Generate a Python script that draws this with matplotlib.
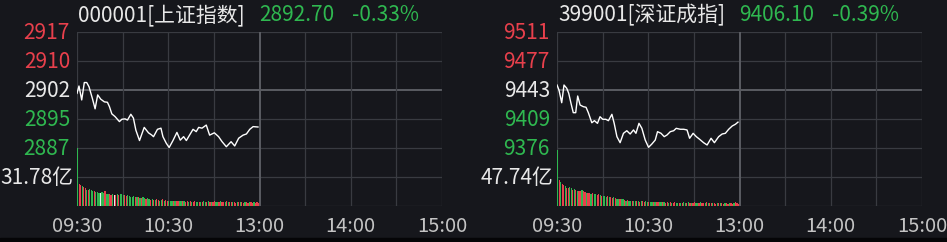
import matplotlib
matplotlib.use("Agg")
import matplotlib.pyplot as plt
from matplotlib.patches import Rectangle

plt.rcParams['font.family'] = ['Noto Sans CJK SC', 'DejaVu Sans']

W, H = 947, 242
BG = '#16171c'
GRID = '#393b41'
GRID_HI = '#5a5c62'
RED = '#e8404c'
GREEN = '#2fb850'
WHITE = '#e8e8e8'
TIME_C = '#c4c4c4'

time_ticks = [0, 60, 120, 180, 240]
time_labels = ['09:30', '10:30', '13:00', '14:00', '15:00']

# ---- 上证指数 ----
sh_title = '000001[上证指数]'
sh_last = '2892.70'
sh_pct = '-0.33%'
sh_preclose = 2902.27
sh_halfrange = 15.0
sh_ticklabels = ['2917', '2910', '2902', '2895', '2887']
sh_vol_label = '31.78亿'
sh_vol_mid = 31.78
sh_minutes = [0, 1.3, 3.1, 4.8, 6.4, 7.9, 10.1, 11.9, 13.6, 15.6, 18.0, 20.0, 21.3, 22.9,
              25.0, 27.9, 29.5, 31.6, 33.2, 35.4, 37.1, 38.7, 41.1, 44.2, 47.0, 49.2, 50.3,
              52.9, 55.2, 56.5, 58.7, 60.6, 63.1, 65.7, 67.9, 70.1, 71.9, 74.0, 76.3, 78.4,
              80.0, 82.2, 85.0, 87.2, 90.3, 93.1, 95.4, 98.2, 101.3, 103.7, 106.3, 109.2,
              111.4, 113.6, 115.8, 119]
sh_prices = [2901.4, 2903.3, 2899.7, 2904.2, 2904.2, 2903.1, 2900.1, 2897.4, 2901.0, 2899.9,
             2899.2, 2899.1, 2898.0, 2896.1, 2895.4, 2894.1, 2894.7, 2894.8, 2894.5, 2896.0,
             2895.0, 2891.9, 2889.2, 2892.6, 2891.2, 2890.6, 2890.2, 2892.1, 2892.4, 2890.2,
             2888.5, 2887.4, 2889.2, 2891.3, 2889.3, 2890.2, 2889.2, 2890.6, 2892.1, 2891.5,
             2892.6, 2892.4, 2893.2, 2890.6, 2891.2, 2890.2, 2888.9, 2887.6, 2888.9, 2887.8,
             2889.8, 2890.6, 2890.9, 2892.1, 2892.8, 2892.7]
sh_volumes = [63.6,
              24, 23, 22, 21, 20, 18, 17, 19, 17, 16,
              16, 15, 15, 14, 14, 15, 14, 16, 13, 13,
              13, 12, 13, 12, 12, 13, 12, 13, 13, 12,
              12, 11, 12, 11, 10, 10, 11, 10, 10, 10,
              9, 9, 10, 9, 8, 9, 8, 7, 8, 7,
              7, 8, 7, 6, 7, 8, 6, 7, 6, 6,
              6, 5, 6, 5, 5, 6, 5, 5, 5, 5,
              4, 5, 4, 5, 4, 4, 5, 4, 4, 4,
              4, 4, 5, 4, 4, 5, 4, 4, 4, 5,
              4, 4, 4, 5, 4, 4, 4, 5, 4, 4,
              4, 4, 4, 3, 4, 4, 4, 4, 3, 4,
              4, 3, 4, 4, 3, 4, 3, 4, 3]
sh_vol_colors = ('g'
                 'rrgrrgrggg'
                 'rgggwggrgg'
                 'rrgwrgrggg'
                 'rrgggggrgr'
                 'grggrggrgr'
                 'grrggrgrrg'
                 'ggrgrrggrg'
                 'rrgrgrrggr'
                 'grggrgrgrr'
                 'ggrgrrgrgr'
                 'rgrrgrgrrg'
                 'rrgrrgrrr')

# ---- 深证成指 ----
sz_title = '399001[深证成指]'
sz_last = '9406.10'
sz_pct = '-0.39%'
sz_preclose = 9443.5
sz_halfrange = 67.5
sz_ticklabels = ['9511', '9477', '9443', '9409', '9376']
sz_vol_label = '47.74亿'
sz_vol_mid = 47.74
sz_minutes = [0, 1.3, 3.1, 4.6, 6.4, 7.7, 9.2, 10.7, 12.3, 13.6, 15.2, 17.3, 19.1, 20.6,
              22.9, 24.6, 26.6, 28.3, 30.1, 32.1, 33.8, 36.1, 37.6, 39.4, 41.5, 43.7, 45.9,
              48.1, 50.3, 51.9, 53.9, 55.8, 58.0, 60.2, 62.4, 64.6, 66.1, 68.4, 70.5, 72.3,
              74.5, 76.7, 78.4, 81.1, 83.3, 85.5, 87.2, 89.5, 91.6, 93.8, 96.4, 98.7, 101.3,
              103.5, 106.3, 108.6, 110.7, 112.9, 115.2, 117.3, 119]
sz_prices = [9449.3, 9443.5, 9428.7, 9449.3, 9445.5, 9439.7, 9428.0, 9417.1, 9417.1, 9436.5,
             9426.0, 9424.1, 9423.4, 9417.1, 9405.4, 9407.8, 9404.7, 9412.4, 9409.4, 9409.4,
             9407.8, 9415.2, 9404.7, 9389.2, 9382.2, 9393.1, 9396.1, 9392.3, 9397.0, 9393.1,
             9404.7, 9398.9, 9385.3, 9376.8, 9380.7, 9385.3, 9395.0, 9393.1, 9389.2, 9391.1,
             9395.0, 9396.1, 9398.9, 9397.8, 9397.8, 9397.0, 9387.3, 9393.1, 9389.2, 9386.1,
             9382.2, 9379.5, 9387.3, 9382.2, 9389.2, 9392.3, 9393.1, 9397.8, 9401.6, 9403.6,
             9406.1]
sz_volumes = [93.0,
              42, 40, 37, 35, 33, 30, 29, 31, 29, 27,
              28, 26, 25, 24, 25, 26, 24, 23, 22, 22,
              21, 20, 22, 20, 19, 18, 19, 18, 17, 16,
              16, 15, 16, 14, 14, 13, 14, 13, 12, 12,
              11, 12, 11, 10, 9, 10, 9, 9, 8, 9,
              8, 9, 8, 7, 8, 9, 7, 8, 7, 7,
              7, 6, 7, 6, 6, 7, 6, 6, 6, 6,
              5, 6, 5, 6, 5, 5, 6, 5, 5, 5,
              5, 5, 6, 5, 5, 6, 5, 5, 5, 6,
              5, 5, 5, 6, 5, 5, 5, 6, 5, 5,
              5, 5, 5, 4, 5, 5, 5, 5, 4, 5,
              5, 4, 5, 5, 4, 5, 6, 5, 4]
sz_vol_colors = ('g'
                 'rgrrgrrggr'
                 'grgrrgrrgr'
                 'rgrggrrgrg'
                 'ggrgrrgrgg'
                 'rggrgrggrg'
                 'grgrgrrggr'
                 'ggrgrrggrg'
                 'rrgrgrrggr'
                 'grggrgrgrr'
                 'ggrgrrgrgr'
                 'rgrrgrgrrg'
                 'rrgrrgrrr')

COLOR_MAP = {'r': RED, 'g': GREEN, 'w': WHITE}


def _rect(x0, y_top, x1, y_bot):
    """pixel box -> figure fraction [left, bottom, width, height]"""
    return [x0 / W, 1 - y_bot / H, (x1 - x0) / W, (y_bot - y_top) / H]


def _fig_xy(x, y):
    return x / W, 1 - y / H


def _draw_panel(fig, x0, x1, label_x, title, last, pct, preclose, halfrange,
                ticklabels, vol_label, vol_mid, minutes, prices, volumes, vol_colors):
    top, mid, bot = 32, 148, 206
    fs = 15
    fs_time = 14.5

    # grid
    ax_g = fig.add_axes(_rect(x0, top, x1, bot))
    ax_g.set_xlim(0, 240)
    ax_g.set_ylim(0, 6)
    ax_g.set_facecolor(BG)
    ax_g.axis('off')
    for k in range(7):
        ax_g.axhline(k, color=GRID_HI if k == 4 else GRID, lw=0.9 if k != 4 else 1.4, zorder=1)
    for m in range(0, 241, 30):
        ax_g.axvline(m, color=GRID_HI if m == 120 else GRID, lw=0.9 if m != 120 else 1.4, zorder=1)

    # price line
    ax_p = fig.add_axes(_rect(x0, top, x1, mid))
    ax_p.set_xlim(0, 240)
    ax_p.set_ylim(preclose - halfrange, preclose + halfrange)
    ax_p.patch.set_alpha(0)
    ax_p.axis('off')
    ax_p.plot(minutes, prices, color='white', lw=1.0, zorder=3)

    # volume bars
    ax_v = fig.add_axes(_rect(x0, mid, x1, bot))
    ax_v.set_xlim(0, 240)
    ax_v.set_ylim(0, vol_mid * 2)
    ax_v.patch.set_alpha(0)
    ax_v.axis('off')
    cols = [COLOR_MAP[c] for c in vol_colors]
    ax_v.bar(range(len(volumes)), volumes, width=0.8, color=cols, align='edge', zorder=3)

    # left tick labels
    tick_cols = [RED, RED, WHITE, GREEN, GREEN]
    for i, (lab, c) in enumerate(zip(ticklabels, tick_cols)):
        y = top + i * (mid - top) / 4 + 1
        fig.text(*_fig_xy(label_x, y), lab, color=c, fontsize=fs, ha='right', va='center')
    fig.text(*_fig_xy(label_x + 3, 178), vol_label, color=WHITE, fontsize=fs,
             ha='right', va='center')

    # time labels
    for m, lab in zip(time_ticks, time_labels):
        x = x0 + (x1 - x0) * m / 240
        fig.text(*_fig_xy(x, 227), lab, color=TIME_C, fontsize=fs_time, ha='center', va='center')

    # title
    fig.text(*_fig_xy(x0 + 1, 15), title, color=WHITE, fontsize=fs, ha='left', va='center')
    fig.text(*_fig_xy(x0 + 182, 15), last, color=GREEN, fontsize=fs, ha='left', va='center')
    fig.text(*_fig_xy(x0 + 275, 15), pct, color=GREEN, fontsize=fs, ha='left', va='center')


def main():
    fig = plt.figure(figsize=(W / 100, H / 100), dpi=100)
    fig.patch.set_facecolor(BG)

    _draw_panel(fig, 77, 442, 70, sh_title, sh_last, sh_pct, sh_preclose, sh_halfrange,
                sh_ticklabels, sh_vol_label, sh_vol_mid, sh_minutes, sh_prices,
                sh_volumes, sh_vol_colors)
    _draw_panel(fig, 557, 922, 550, sz_title, sz_last, sz_pct, sz_preclose, sz_halfrange,
                sz_ticklabels, sz_vol_label, sz_vol_mid, sz_minutes, sz_prices,
                sz_volumes, sz_vol_colors)

    # dark strip along the bottom edge
    fig.patches.append(Rectangle((0, 0), 1, 4 / H, transform=fig.transFigure,
                                 color='#050507', zorder=0))

    fig.savefig('out.png', dpi=100, facecolor=BG)


if __name__ == "__main__":
    main()
